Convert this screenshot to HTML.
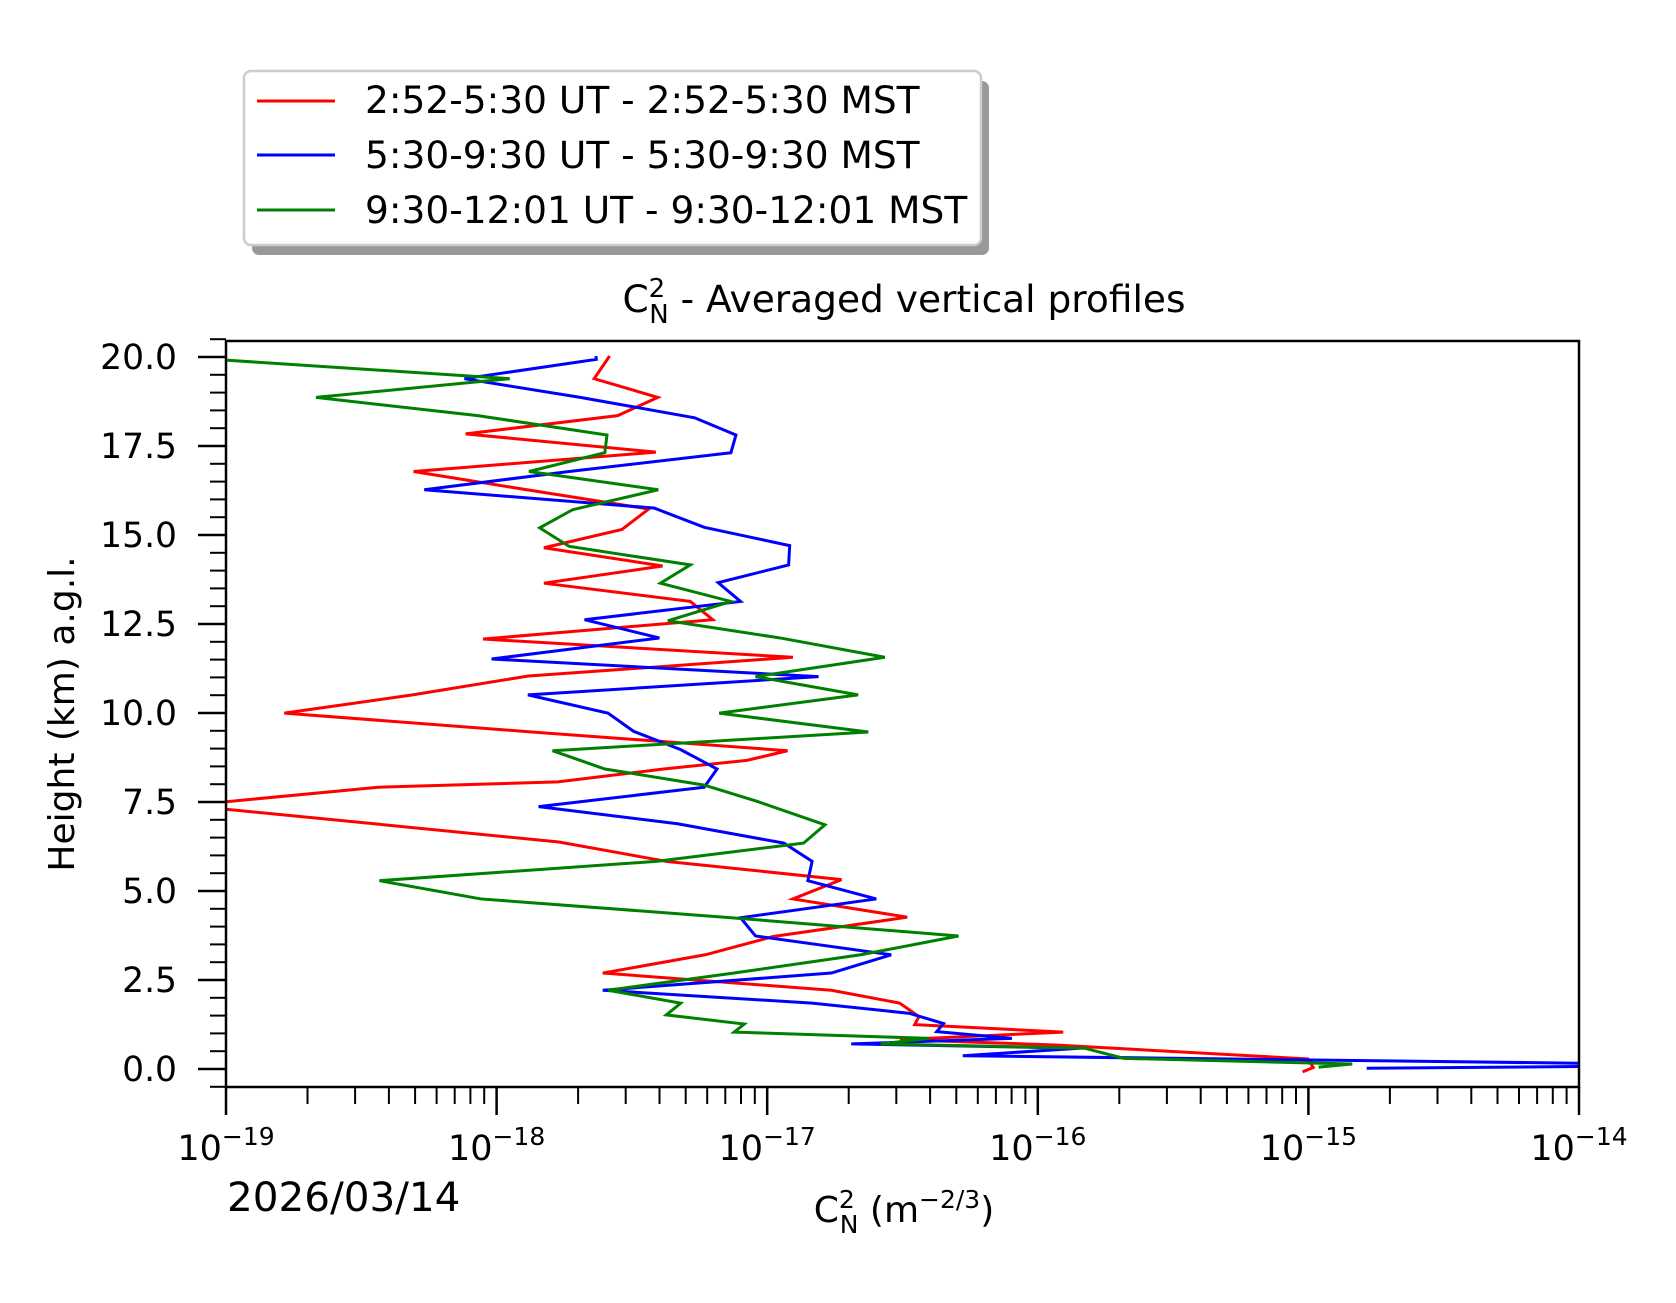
<!DOCTYPE html>
<html><head><meta charset="utf-8"><style>
html,body{margin:0;padding:0;background:#fff;}
svg{display:block;}
text{font-family:"DejaVu Sans","Liberation Sans",sans-serif;fill:#000;}
</style></head><body>
<svg width="1676" height="1303" viewBox="0 0 1676 1303" xmlns="http://www.w3.org/2000/svg">
<defs><clipPath id="c"><rect x="226" y="341" width="1353" height="746"/></clipPath></defs>
<rect width="1676" height="1303" fill="#fff"/>

<!-- legend -->
<rect x="252" y="81" width="737" height="174" rx="7" fill="#999"/>
<rect x="244" y="71" width="737" height="174" rx="7" fill="#fff" stroke="#ccc" stroke-width="2.5"/>
<line x1="257" y1="101" x2="335" y2="101" stroke="#f00" stroke-width="3"/>
<line x1="257" y1="155" x2="335" y2="155" stroke="#00f" stroke-width="3"/>
<line x1="257" y1="210" x2="335" y2="210" stroke="#008000" stroke-width="3"/>
<text x="365" y="113" font-size="37.5">2:52-5:30 UT - 2:52-5:30 MST</text>
<text x="365" y="168" font-size="37.5">5:30-9:30 UT - 5:30-9:30 MST</text>
<text x="365" y="223" font-size="37.5">9:30-12:01 UT - 9:30-12:01 MST</text>

<!-- title -->
<text x="904" y="312" font-size="37.5" text-anchor="middle">C<tspan font-size="26" dy="-15">2</tspan><tspan font-size="26" dx="-16" dy="26">N</tspan><tspan dy="-11"> - Averaged vertical profiles</tspan></text>

<!-- data -->
<g clip-path="url(#c)"><g transform="translate(226,0) scale(0.99485,1) translate(-226,0)"><g transform="scale(1.074)" fill="none" stroke-width="2.8" stroke-linejoin="miter">
<polyline stroke="#f00" points="569.5,331.5 555,352.6 614.5,370 577,387 434.7,404 612.7,421 386,439 492,456 606,474 581,493 508,510 619,527 508,543 645,560 666,577 451,595 741,612 493.5,629.4 385,647 265,664 503,682 736,699 698,708 620,716 521,728 353,733 205,747 205,753 354,767.5 522,784 622.5,802 786.5,819 741,837 848,854 722.6,872 659,889 563,906 777,922 841,934 859,946.6 855,954 994,961 841,968 987,973 1223,986 1228,994 1218,998"/>
<polyline stroke="#00f" points="556.6,331.5 557,334.6 433.6,352.6 542,370 649,389 687.7,405 683,421.5 531.6,439 396,456 611,473 658,491 738,508 737,526 671,542.5 692,560 546,577 616,594 459,613.6 765,630 493,647 568,664 592,681 636,698 670,716 658,733 503,751 633,767 732.5,785 759,802 755,820 819,837 692,854.5 706,871.5 833,889 777,906 563,922 759,934 850,943.5 882,953 875.6,960.6 946,966.8 795.6,972 1009,976 900,983 1480,990 1480,993 1278,994.7"/>
<polyline stroke="#008000" points="205,335 476,352.6 294.7,370 446,387 567,405 565,421.5 494,439 615,456 535,474.5 504,491.5 531.6,508.7 645,526 617,543 683,560 624,578 729,594 827,612 706,630 802,647 672,664 811.6,681.6 516,699 565,716 658,731 707,746 771,768 751,785 613,802 354,820 449,837 677,854 896,871.5 804.5,889 686,906 568,922 636,934 622.5,945 695.5,953.5 686,961 868.5,966.8 823,972 1014,976 1050.7,985.4 1264.5,990.7 1233,993.6"/>
</g></g></g>

<!-- axes frame -->
<rect x="226" y="341" width="1353" height="746" fill="none" stroke="#000" stroke-width="2.5"/>

<!-- y ticks -->
<g stroke="#000" stroke-width="2.5">
<line x1="198" x2="226" y1="1069" y2="1069"/><line x1="198" x2="226" y1="980" y2="980"/><line x1="198" x2="226" y1="891" y2="891"/><line x1="198" x2="226" y1="802" y2="802"/><line x1="198" x2="226" y1="713" y2="713"/><line x1="198" x2="226" y1="624" y2="624"/><line x1="198" x2="226" y1="535" y2="535"/><line x1="198" x2="226" y1="446" y2="446"/><line x1="198" x2="226" y1="357" y2="357"/>
</g>
<g stroke="#000" stroke-width="2">
<line x1="210" x2="226" y1="1086.8" y2="1086.8"/><line x1="210" x2="226" y1="1051.2" y2="1051.2"/><line x1="210" x2="226" y1="1033.4" y2="1033.4"/><line x1="210" x2="226" y1="1015.6" y2="1015.6"/><line x1="210" x2="226" y1="997.8" y2="997.8"/>
<line x1="210" x2="226" y1="962.2" y2="962.2"/><line x1="210" x2="226" y1="944.4" y2="944.4"/><line x1="210" x2="226" y1="926.6" y2="926.6"/><line x1="210" x2="226" y1="908.8" y2="908.8"/>
<line x1="210" x2="226" y1="873.2" y2="873.2"/><line x1="210" x2="226" y1="855.4" y2="855.4"/><line x1="210" x2="226" y1="837.6" y2="837.6"/><line x1="210" x2="226" y1="819.8" y2="819.8"/>
<line x1="210" x2="226" y1="784.2" y2="784.2"/><line x1="210" x2="226" y1="766.4" y2="766.4"/><line x1="210" x2="226" y1="748.6" y2="748.6"/><line x1="210" x2="226" y1="730.8" y2="730.8"/>
<line x1="210" x2="226" y1="695.2" y2="695.2"/><line x1="210" x2="226" y1="677.4" y2="677.4"/><line x1="210" x2="226" y1="659.6" y2="659.6"/><line x1="210" x2="226" y1="641.8" y2="641.8"/>
<line x1="210" x2="226" y1="606.2" y2="606.2"/><line x1="210" x2="226" y1="588.4" y2="588.4"/><line x1="210" x2="226" y1="570.6" y2="570.6"/><line x1="210" x2="226" y1="552.8" y2="552.8"/>
<line x1="210" x2="226" y1="517.2" y2="517.2"/><line x1="210" x2="226" y1="499.4" y2="499.4"/><line x1="210" x2="226" y1="481.6" y2="481.6"/><line x1="210" x2="226" y1="463.8" y2="463.8"/>
<line x1="210" x2="226" y1="428.2" y2="428.2"/><line x1="210" x2="226" y1="410.4" y2="410.4"/><line x1="210" x2="226" y1="392.6" y2="392.6"/><line x1="210" x2="226" y1="374.8" y2="374.8"/>
<line x1="210" x2="226" y1="339.2" y2="339.2"/>
</g>
<g font-size="34.5" text-anchor="end">
<text x="177" y="1081">0.0</text><text x="177" y="992">2.5</text><text x="177" y="903">5.0</text><text x="177" y="814">7.5</text><text x="177" y="725">10.0</text><text x="177" y="636">12.5</text><text x="177" y="547">15.0</text><text x="177" y="458">17.5</text><text x="177" y="369">20.0</text>
</g>
<text transform="translate(74,714) rotate(-90)" font-size="36" text-anchor="middle">Height (km) a.g.l.</text>

<!-- x ticks -->
<g stroke="#000" stroke-width="2.5">
<line x1="226" x2="226" y1="1087" y2="1115"/><line x1="496.6" x2="496.6" y1="1087" y2="1115"/><line x1="767.2" x2="767.2" y1="1087" y2="1115"/><line x1="1037.8" x2="1037.8" y1="1087" y2="1115"/><line x1="1308.4" x2="1308.4" y1="1087" y2="1115"/><line x1="1579" x2="1579" y1="1087" y2="1115"/>
</g>
<g stroke="#000" stroke-width="2" id="minor">
<line x1="307.5" x2="307.5" y1="1087" y2="1104"/><line x1="355.1" x2="355.1" y1="1087" y2="1104"/><line x1="388.9" x2="388.9" y1="1087" y2="1104"/><line x1="415.1" x2="415.1" y1="1087" y2="1104"/><line x1="436.6" x2="436.6" y1="1087" y2="1104"/><line x1="454.7" x2="454.7" y1="1087" y2="1104"/><line x1="470.4" x2="470.4" y1="1087" y2="1104"/><line x1="484.2" x2="484.2" y1="1087" y2="1104"/>
</g>
<use href="#minor" x="270.6"/><use href="#minor" x="541.2"/><use href="#minor" x="811.8"/><use href="#minor" x="1082.4"/>
<g font-size="35" text-anchor="middle">
<text x="226" y="1160">10<tspan font-size="25" dy="-15">−19</tspan></text>
<text x="496.6" y="1160">10<tspan font-size="25" dy="-15">−18</tspan></text>
<text x="767.2" y="1160">10<tspan font-size="25" dy="-15">−17</tspan></text>
<text x="1037.8" y="1160">10<tspan font-size="25" dy="-15">−16</tspan></text>
<text x="1308.4" y="1160">10<tspan font-size="25" dy="-15">−15</tspan></text>
<text x="1579" y="1160">10<tspan font-size="25" dy="-15">−14</tspan></text>
</g>
<text x="227" y="1211" font-size="40.5">2026/03/14</text>
<text x="904" y="1222" font-size="36" text-anchor="middle">C<tspan font-size="25" dy="-14">2</tspan><tspan font-size="25" dx="-15" dy="25">N</tspan><tspan dy="-11"> (m</tspan><tspan font-size="25" dy="-14">−2/3</tspan><tspan dy="14">)</tspan></text>
</svg>
</body></html>
